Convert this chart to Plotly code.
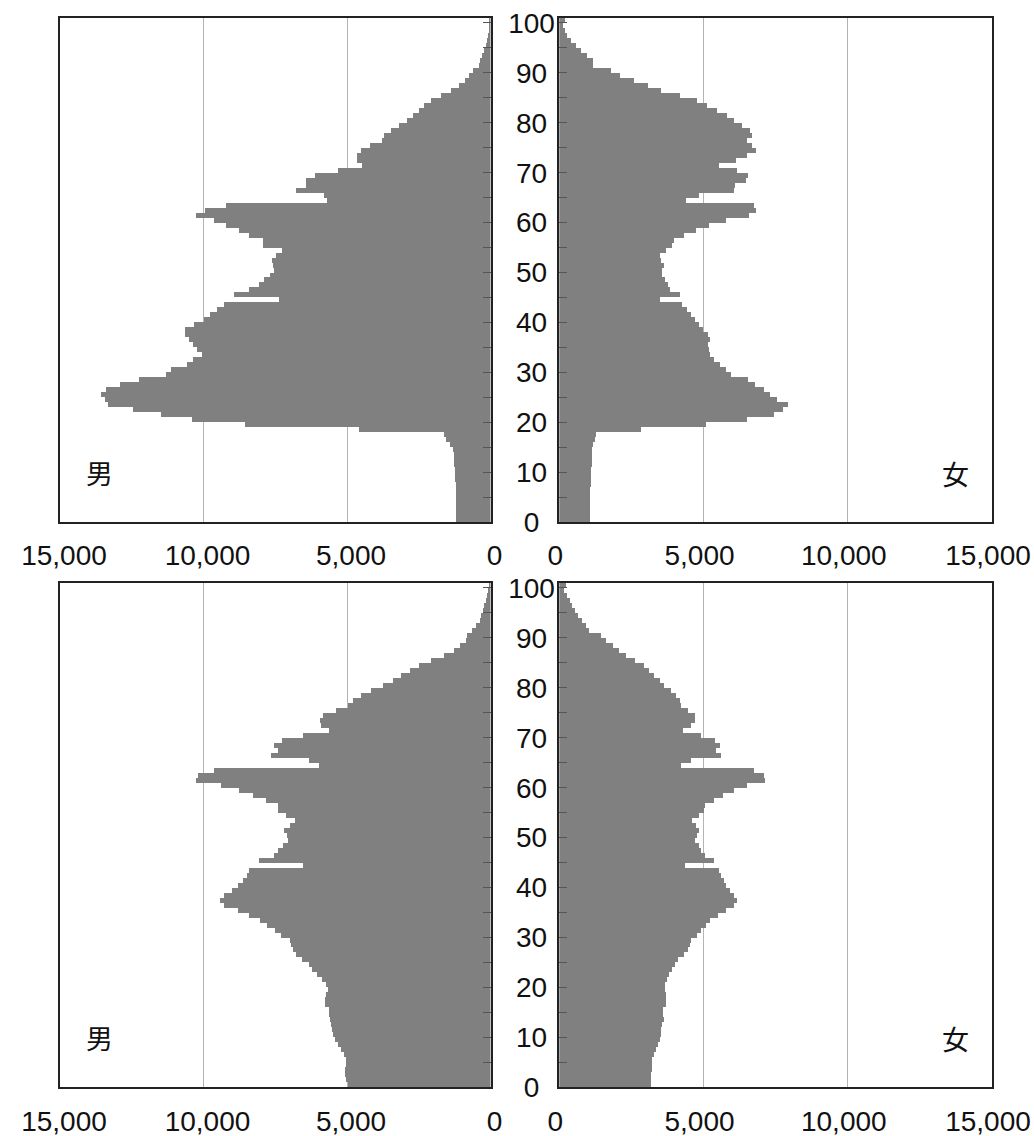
import plotly.graph_objects as go

ages = list(range(0, 101))

male_top = [1190, 1190, 1190, 1190, 1190, 1190, 1200, 1210, 1220, 1230,
            1245, 1260, 1270, 1280, 1300, 1400, 1540, 1630, 4590, 8550,
            10390, 11490, 12440, 13320, 13430, 13580, 13410, 12910, 12250, 11300,
            11130, 10580, 10350, 10060, 10210, 10350, 10520, 10640, 10640, 10320,
            10000, 9770, 9540, 9280, 7360, 8930, 8400, 8080, 7880, 7700,
            7560, 7580, 7620, 7470, 7270, 7910, 7910, 8400, 8780, 9220,
            9620, 10260, 9940, 9220, 5700, 5810, 6770, 6430, 6430, 6100,
            5310, 4480, 4650, 4650, 4520, 4190, 3780, 3720, 3450, 3190,
            2910, 2710, 2500, 2300, 2090, 1720, 1370, 1100, 900, 760,
            620, 410, 350, 290, 230, 170, 120, 80, 60, 40, 30]

female_top = [1060, 1060, 1060, 1060, 1060, 1075, 1090, 1100, 1110, 1120,
              1120, 1130, 1145, 1155, 1155, 1180, 1240, 1270, 2830, 5080,
              6500, 7450, 7760, 7930, 7570, 7330, 7100, 6800, 6550, 5970,
              5800, 5570, 5360, 5240, 5190, 5160, 5220, 5160, 4990, 4850,
              4700, 4590, 4450, 4270, 3490, 4180, 3860, 3780, 3660, 3570,
              3570, 3640, 3550, 3510, 3720, 3930, 3980, 4350, 4760, 5190,
              5780, 6570, 6840, 6750, 4410, 4850, 6060, 6100, 6480, 6550,
              6170, 5540, 6130, 6530, 6840, 6700, 6510, 6690, 6610, 6350,
              6060, 5830, 5490, 5140, 4790, 4180, 3550, 3080, 2590, 2125,
              1810, 1180, 1180, 970, 750, 580, 400, 290, 220, 140, 200]

male_bottom = [4980, 5020, 5060, 5060, 5040, 5040, 5120, 5200, 5330, 5410,
               5490, 5520, 5560, 5580, 5610, 5640, 5760, 5780, 5730, 5660,
               5720, 5870, 6050, 6220, 6340, 6570, 6770, 6880, 6940, 6980,
               7290, 7500, 7790, 8020, 8410, 8800, 9280, 9420, 9280, 9010,
               8800, 8610, 8470, 8400, 6540, 8080, 7560, 7390, 7230, 7040,
               7090, 7180, 6980, 6800, 7130, 7390, 7390, 7830, 8260, 8750,
               9400, 10260, 10180, 9650, 5970, 6340, 7660, 7390, 7540, 7270,
               6540, 5610, 5900, 5930, 5820, 5400, 4970, 4800, 4500, 4150,
               3740, 3410, 3120, 2790, 2480, 2060, 1630, 1260, 1050, 870,
               810, 640, 520, 370, 330, 270, 210, 150, 120, 80, 60]

female_bottom = [3200, 3200, 3200, 3230, 3220, 3220, 3310, 3370, 3430, 3490,
                 3520, 3550, 3570, 3640, 3600, 3600, 3720, 3700, 3700, 3660,
                 3680, 3740, 3830, 3920, 4030, 4120, 4350, 4470, 4530, 4590,
                 4780, 4930, 5110, 5220, 5510, 5780, 6060, 6180, 6060, 5940,
                 5800, 5710, 5620, 5540, 4380, 5390, 5050, 4930, 4850, 4720,
                 4790, 4850, 4760, 4620, 4840, 5020, 5050, 5390, 5680, 6050,
                 6510, 7130, 7100, 6760, 4240, 4590, 5600, 5430, 5570, 5420,
                 4930, 4300, 4590, 4700, 4700, 4470, 4220, 4200, 4040, 3870,
                 3640, 3490, 3280, 3110, 2950, 2640, 2310, 2080, 1870, 1640,
                 1470, 1040, 920, 800, 660, 570, 460, 370, 290, 170, 250]

x_ticks = [0, 5000, 10000, 15000]
x_ticktext = ["0", "5,000", "10,000", "15,000"]
y_ticks = list(range(0, 101, 5))
NB = "\u00a0"
def ylab(v):
    if v % 10:
        return ""
    s = str(v)
    return s + NB * (3 - len(s))
y_ticktext = [ylab(v) for v in y_ticks]

male_label = "男"
female_label = "女"

W, H = 1034, 1136
BAR = "#808080"
FONT = "Liberation Sans, Arial, sans-serif"
CJK = "Noto Sans CJK JP"
TSIZE = 28

fig = go.Figure()
series = [(male_top, "x", "y"), (female_top, "x2", "y2"),
          (male_bottom, "x3", "y3"), (female_bottom, "x4", "y4")]
for vals, xa, ya in series:
    fig.add_trace(go.Bar(x=vals, y=ages, orientation="h", width=1, offset=0,
                         marker=dict(color=BAR, line=dict(width=0)),
                         xaxis=xa, yaxis=ya, showlegend=False,
                         hoverinfo="x+y"))

left_dom = [60 / W, 490.5 / W]
right_dom = [559.3 / W, 992 / W]
top_dom = [(H - 522) / H, (H - 18) / H]
bot_dom = [(H - 1087.3) / H, (H - 583) / H]

def xaxis(dom, anchor, rng):
    return dict(domain=dom, anchor=anchor, range=rng, tickvals=x_ticks,
                ticktext=x_ticktext, showgrid=True, gridcolor="#b4b4b4",
                gridwidth=1, zeroline=False, showline=True, linecolor="#222",
                linewidth=1.5, mirror=True, ticks="", ticklabelstandoff=8,
                ticklabelshift=-4,
                tickfont=dict(family=FONT, size=TSIZE, color="#111"),
                automargin=False, fixedrange=True)

def yaxis(dom, anchor, side, labels):
    d = dict(domain=dom, anchor=anchor, range=[0, 101], side=side,
             tickvals=y_ticks, showgrid=False, zeroline=False, showline=True,
             linecolor="#222", linewidth=1.5, mirror=True, ticks="inside",
             ticklen=8, tickwidth=1, tickcolor="#555",
             automargin=False, fixedrange=True)
    if labels:
        d.update(ticktext=y_ticktext, showticklabels=True, ticklabelstandoff=-3,
                 tickfont=dict(family=FONT, size=TSIZE, color="#111"))
    else:
        d.update(showticklabels=False)
    return d

fig.update_layout(
    width=W, height=H,
    margin=dict(l=0, r=0, t=0, b=0),
    paper_bgcolor="white", plot_bgcolor="white",
    xaxis=xaxis(left_dom, "y", [15000, 0]),
    xaxis2=xaxis(right_dom, "y2", [0, 15000]),
    xaxis3=xaxis(left_dom, "y3", [15000, 0]),
    xaxis4=xaxis(right_dom, "y4", [0, 15000]),
    yaxis=yaxis(top_dom, "x", "right", False),
    yaxis2=yaxis(top_dom, "x2", "left", True),
    yaxis3=yaxis(bot_dom, "x3", "right", False),
    yaxis4=yaxis(bot_dom, "x4", "left", True),
    bargap=0,
)

ann_font = dict(family=CJK, size=27, color="#111")
for xp, yp, txt in [(99.5, 472.5, male_label), (955, 473, female_label),
                    (99.5, 1037.5, male_label), (955, 1038, female_label)]:
    fig.add_annotation(x=xp / W, y=(H - yp) / H, xref="paper", yref="paper",
                       text=txt, showarrow=False, font=ann_font,
                       xanchor="center", yanchor="middle")

fig.write_html("out.html", config={"displayModeBar": False},
               post_script="document.body.style.margin='0px';"
                           "document.body.style.padding='0px';")
